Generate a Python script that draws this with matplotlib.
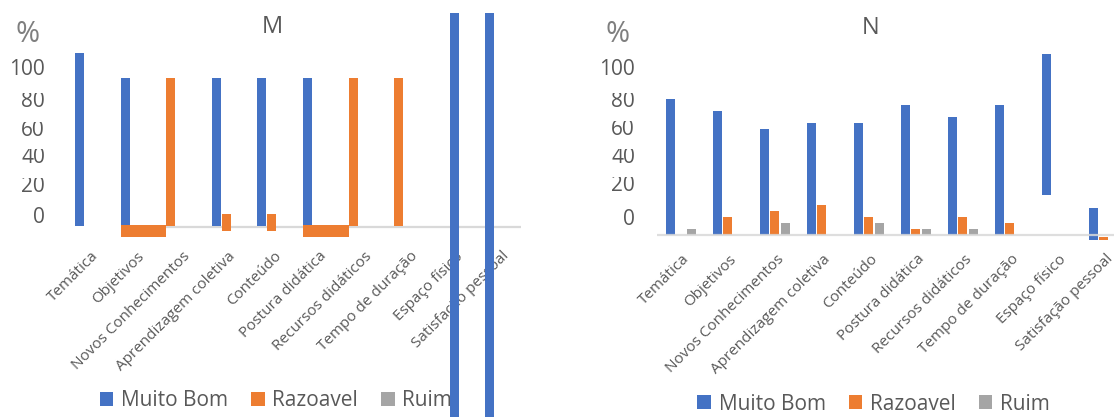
import matplotlib
matplotlib.use("Agg")
import matplotlib.pyplot as plt
from matplotlib.patches import Patch
from matplotlib.transforms import Bbox, TransformedBbox, blended_transform_factory

plt.rcParams["font.family"] = ["Open Sans", "DejaVu Sans"]

# ---------------------------------------------------------------- data
categories = ["Temática", "Objetivos", "Novos Conhecimentos",
              "Aprendizagem coletiva", "Conteúdo", "Postura didática",
              "Recursos didáticos", "Tempo de duração", "Espaço físico",
              "Satisfação pessoal"]
series_names = ["Muito Bom", "Razoavel", "Ruim"]
y_tick_labels = ["100", "80", "60", "40", "20", "0"]

# Panel M (bar tops / bottoms, %)
m_muito_bom_top = [117, 100, 0, 100, 100, 100, 0, 0, 200, 200]
m_muito_bom_bottom = [0, 0, 0, 0, 0, 0, 0, 0, -200, -200]
m_razoavel_top = [0, 0.7, 100, 8.1, 8.1, 0.7, 100, 100, 0, 0]
m_razoavel_bottom = [0, -7.3, 0, -3.4, -3.4, -7.3, 0, 0, 0, 0]
m_tick_values = [102.0, 80.4, 60.8, 42.6, 23.3, 2.0]

# Panel N (bar tops / bottoms, %)
n_muito_bom_top = [95.8, 87.5, 75.0, 79.2, 79.2, 91.7, 83.3, 91.7, 128.0, 18.8]
n_muito_bom_bottom = [0, 0, 0, 0, 0, 0, 0, 0, 28.0, -3.9]
n_razoavel_top = [0, 12.5, 16.7, 20.8, 12.5, 4.2, 12.5, 8.3, 0, -1.8]
n_razoavel_bottom = [0, 0, 0, 0, 0, 0, 0, 0, 0, -3.9]
n_ruim_top = [4.2, 0, 8.3, 0, 8.3, 4.2, 4.2, 0, 0, 0]
n_ruim_bottom = [0, 0, 0, 0, 0, 0, 0, 0, 0, 0]
n_tick_values = [113.1, 90.6, 70.6, 51.0, 31.1, 6.7]

# ---------------------------------------------------------------- style
BLUE, ORANGE, GRAY = "#4472C4", "#ED7D31", "#A5A5A5"
TEXT = "#595959"
PCT = "#7F7F7F"
AXIS_LINE = "#D9D9D9"

W, H = 1114, 417
fig = plt.figure(figsize=(W / 100, H / 100), dpi=100)
fig.patch.set_facecolor("white")


def make_axes(x0, x1, ytop, ybot):
    ax = fig.add_axes([x0 / W, (H - ybot) / H, (x1 - x0) / W, (ybot - ytop) / H])
    ax.set_axis_off()
    ax.patch.set_visible(False)
    return ax


def panel(ax, x0, x1, first_center, step, base_px, px_per_unit, top_px, bottom_px):
    ax.set_xlim((x0 - first_center) / step, (x1 - first_center) / step)
    ax.set_ylim((base_px - bottom_px) / px_per_unit, (base_px - top_px) / px_per_unit)


def draw_bars(ax, step, tops, bottoms, slots, color, wide=None, z=2):
    bw = 9 / step
    off = 10 / step
    for i, (t, b) in enumerate(zip(tops, bottoms)):
        if t == b:
            continue
        left = i + slots[i] * off - bw / 2
        width = 1.0 if (wide is not None and wide[i]) else bw
        ax.bar(left, t - b, width=width, bottom=b, align="edge",
               color=color, linewidth=0, zorder=z)


def y_labels(ax, x_px, values, px_per_unit, clip_flags):
    tr = blended_transform_factory(fig.transFigure, ax.transData)
    for lab, v, clip in zip(y_tick_labels, values, clip_flags):
        t = ax.text(x_px / W, v, lab, transform=tr, ha="right", va="baseline",
                    fontsize=15, color=TEXT, zorder=1)
        if clip:
            box = Bbox([[-1000, -1000], [1000, v + 14 / px_per_unit]])
            t.set_clip_box(TransformedBbox(box, ax.transData))
            t.set_clip_on(True)
        else:
            t.set_clip_on(False)


def x_labels(ax, step, y_px, base_px, px_per_unit):
    y = (base_px - y_px) / px_per_unit
    for i, cat in enumerate(categories):
        ax.text(i + 7 / step, y, cat, rotation=45, rotation_mode="anchor",
                ha="right", va="center", fontsize=11, color=TEXT, zorder=1,
                clip_on=False)


# ---------------------------------------------------------------- panel M
axm = make_axes(0, 557, 13, 417)
M_C0, M_STEP, M_BASE, M_SCALE = 89.5, 45.6, 226.0, 1.48
panel(axm, 0, 557, M_C0, M_STEP, M_BASE, M_SCALE, 13, 417)
axm.plot([(121 - M_C0) / M_STEP, (521 - M_C0) / M_STEP], [-0.7, -0.7],
         color=AXIS_LINE, lw=1.6, zorder=0.9, solid_capstyle="butt")
draw_bars(axm, M_STEP, m_muito_bom_top, m_muito_bom_bottom,
          [-1, -1, -1, -1, -1, -1, -1, -1, 0, -1], BLUE)
draw_bars(axm, M_STEP, m_razoavel_top, m_razoavel_bottom,
          [0, -1, -1, 0, 0, -1, -1, -1, 0, 0], ORANGE,
          wide=[False, True, False, False, False, True, False, False, False, False])
y_labels(axm, 45, m_tick_values, M_SCALE, [False, True, True, True, True, False])
x_labels(axm, M_STEP, 254, M_BASE, M_SCALE)
fig.text(272 / W, 1 - 27 / H, "M", ha="center", va="center", fontsize=17, color=TEXT)
fig.text(27.5 / W, 1 - 34 / H, "%", ha="center", va="center", fontsize=21, color=PCT)

handles = [Patch(facecolor=c, linewidth=0) for c in (BLUE, ORANGE, GRAY)]
leg_kw = dict(loc="center", ncol=3, frameon=False, fontsize=15,
              handlelength=0.65, handleheight=0.65, handletextpad=0.375,
              columnspacing=1.1, borderpad=0, borderaxespad=0,
              bbox_transform=fig.transFigure, labelcolor=TEXT)
leg_m = axm.legend(handles, series_names, bbox_to_anchor=(276 / W, 1 - 401 / H), **leg_kw)
leg_m.set_zorder(1.5)

# ---------------------------------------------------------------- panel N
axn = make_axes(557, 1114, 13, 417)
N_C0, N_STEP, N_BASE, N_SCALE = 680.5, 47.0, 234.5, 1.41
panel(axn, 557, 1114, N_C0, N_STEP, N_BASE, N_SCALE, 13, 417)
draw_bars(axn, N_STEP, n_muito_bom_top, n_muito_bom_bottom, [-1] * 10, BLUE)
draw_bars(axn, N_STEP, n_razoavel_top, n_razoavel_bottom, [0] * 10, ORANGE)
draw_bars(axn, N_STEP, n_ruim_top, n_ruim_bottom, [1.05] * 10, GRAY)
axn.plot([(657 - N_C0) / N_STEP, (1114 - N_C0) / N_STEP], [-0.4, -0.4],
         color=AXIS_LINE, lw=1.6, zorder=3, alpha=0.85, solid_capstyle="butt")
y_labels(axn, 635, n_tick_values, N_SCALE, [False, True, True, True, True, False])
x_labels(axn, N_STEP, 257, N_BASE, N_SCALE)
fig.text(871 / W, 1 - 28 / H, "N", ha="center", va="center", fontsize=17, color=TEXT)
fig.text(617.5 / W, 1 - 35 / H, "%", ha="center", va="center", fontsize=21, color=PCT)
axn.legend(handles, series_names, bbox_to_anchor=(873.6 / W, 1 - 404 / H), **leg_kw)

fig.savefig("out.png", dpi=100, facecolor="white")
